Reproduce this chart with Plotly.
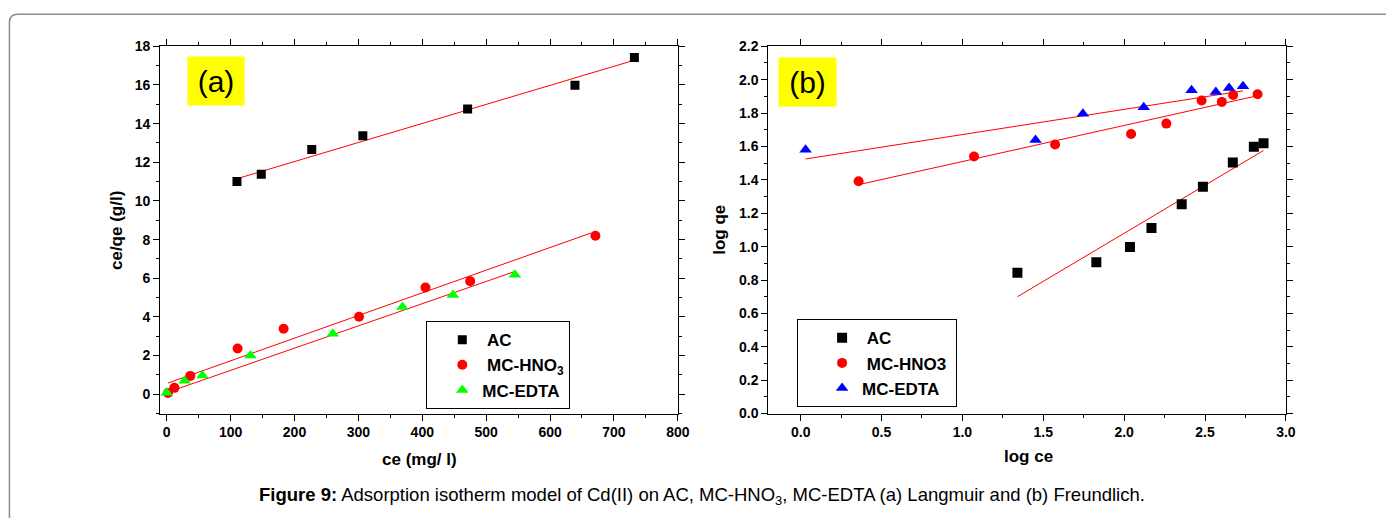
import plotly.graph_objects as go

W, H = 1398, 526

# ---------------- Panel (a): Langmuir ----------------
ce_ac_a = [110, 148, 227, 307, 471, 639, 732]
cq_ac_a = [11.0, 11.38, 12.66, 13.37, 14.76, 15.99, 17.42]
ce_hno3_a = [2, 12, 37, 111, 183, 301, 405, 475, 671]
cq_hno3_a = [0.06, 0.33, 0.95, 2.37, 3.39, 4.01, 5.52, 5.85, 8.2]
ce_edta_a = [0, 28, 56, 131, 260, 369, 448, 545]
cq_edta_a = [0.08, 0.70, 0.97, 2.01, 3.13, 4.51, 5.13, 6.18]
fit_ac_a_x = [110, 732]
fit_ac_a_y = [11.15, 17.28]
fit_hno3_a_x = [2, 664]
fit_hno3_a_y = [0.58, 8.34]
fit_edta_a_x = [3, 543]
fit_edta_a_y = [0.12, 6.33]

# ---------------- Panel (b): Freundlich ----------------
logce_ac_b = [1.340, 1.828, 2.036, 2.169, 2.356, 2.487, 2.672, 2.802, 2.862]
logqe_ac_b = [0.843, 0.907, 0.998, 1.111, 1.254, 1.359, 1.504, 1.599, 1.620]
logce_hno3_b = [0.358, 1.072, 1.573, 2.043, 2.261, 2.479, 2.604, 2.674, 2.825]
logqe_hno3_b = [1.392, 1.540, 1.612, 1.675, 1.737, 1.875, 1.867, 1.908, 1.913]
logce_edta_b = [0.030, 1.452, 1.745, 2.121, 2.417, 2.567, 2.649, 2.735]
logqe_edta_b = [1.581, 1.638, 1.796, 1.835, 1.937, 1.927, 1.950, 1.960]
fit_ac_b_x = [1.340, 2.862]
fit_ac_b_y = [0.700, 1.576]
fit_hno3_b_x = [0.376, 2.825]
fit_hno3_b_y = [1.375, 1.904]
fit_edta_b_x = [0.030, 2.735]
fit_edta_b_y = [1.525, 1.933]

names_a = ["\u00a0AC", "\u00a0MC-HNO<sub>3</sub>", "MC-EDTA"]
names_b = ["\u00a0AC", "\u00a0MC-HNO3\u00a0", "MC-EDTA"]
x_ticks_a = [0, 100, 200, 300, 400, 500, 600, 700, 800]
y_ticks_a = [0, 2, 4, 6, 8, 10, 12, 14, 16, 18]
x_ticks_b = [0.0, 0.5, 1.0, 1.5, 2.0, 2.5, 3.0]
y_ticks_b = [0.0, 0.2, 0.4, 0.6, 0.8, 1.0, 1.2, 1.4, 1.6, 1.8, 2.0, 2.2]

FONT = "Liberation Sans, Arial, sans-serif"
RED = "#ff0000"

fig = go.Figure()

def fit(x, y, xa, ya):
    fig.add_trace(go.Scatter(x=x, y=y, mode="lines", line=dict(color=RED, width=1),
                             showlegend=False, hoverinfo="skip", xaxis=xa, yaxis=ya))

def pts(x, y, name, sym, color, size, xa, ya, leg):
    fig.add_trace(go.Scatter(x=x, y=y, mode="markers", name=name,
                             marker=dict(symbol=sym, color=color, size=size, line=dict(width=0)),
                             xaxis=xa, yaxis=ya, legend=leg))

fit(fit_ac_a_x, fit_ac_a_y, "x", "y")
fit(fit_hno3_a_x, fit_hno3_a_y, "x", "y")
fit(fit_edta_a_x, fit_edta_a_y, "x", "y")
pts(ce_ac_a, cq_ac_a, names_a[0], "square", "black", 9, "x", "y", "legend")
pts(ce_hno3_a, cq_hno3_a, names_a[1], "circle", RED, 10, "x", "y", "legend")
pts(ce_edta_a, cq_edta_a, names_a[2], "triangle-up", "#00ff00", 11, "x", "y", "legend")

fit(fit_ac_b_x, fit_ac_b_y, "x2", "y2")
fit(fit_hno3_b_x, fit_hno3_b_y, "x2", "y2")
fit(fit_edta_b_x, fit_edta_b_y, "x2", "y2")
pts(logce_ac_b, logqe_ac_b, names_b[0], "square", "black", 10, "x2", "y2", "legend2")
pts(logce_hno3_b, logqe_hno3_b, names_b[1], "circle", RED, 10, "x2", "y2", "legend2")
pts(logce_edta_b, logqe_edta_b, names_b[2], "triangle-up", "#0000ff", 11, "x2", "y2", "legend2")

def px(v):
    return v / W

def py(v):
    return 1 - v / H

ydom = [py(418.3), py(39.5)]
axcommon = dict(showgrid=False, zeroline=False, showline=True, linecolor="black", linewidth=1.2,
                mirror="allticks", ticks="outside", ticklen=6, tickwidth=1, tickcolor="black",
                tickfont=dict(family=FONT, size=14, color="black", weight="bold"))

fig.update_layout(
    autosize=True, margin=dict(l=0, r=0, t=0, b=0),
    paper_bgcolor="white", plot_bgcolor="white",
    xaxis=dict(domain=[px(161.7), px(683.7)], range=[-10, 800], tickvals=x_ticks_a,
               minor=dict(dtick=50, ticks="outside", ticklen=3, tickcolor="black"),
               anchor="y", **axcommon),
    yaxis=dict(domain=ydom, range=[-1, 18], tickvals=y_ticks_a,
               minor=dict(dtick=1, ticks="outside", ticklen=3, tickcolor="black"),
               anchor="x", **axcommon),
    xaxis2=dict(domain=[px(775), px(1297)], range=[-0.2, 3.0], tickvals=x_ticks_b, tickformat=".1f",
                minor=dict(dtick=0.25, ticks="outside", ticklen=3, tickcolor="black"),
                anchor="y2", **axcommon),
    yaxis2=dict(domain=ydom, range=[0, 2.2], tickvals=y_ticks_b, tickformat=".1f",
                minor=dict(dtick=0.1, ticks="outside", ticklen=3, tickcolor="black"),
                anchor="x2", **axcommon),
    legend=dict(x=px(430), y=py(323), xanchor="left", yanchor="top",
                bgcolor="white", bordercolor="black", borderwidth=1, indentation=15,
                font=dict(family=FONT, size=17, color="black", weight="bold"),
                itemsizing="trace"),
    legend2=dict(x=px(804), y=py(321), xanchor="left", yanchor="top",
                 bgcolor="white", bordercolor="black", borderwidth=1, indentation=24,
                 font=dict(family=FONT, size=17, color="black", weight="bold"),
                 itemsizing="trace"),
    showlegend=True,
)

ann = []
ann.append(dict(x=px(218), y=py(75), text="(a)", showarrow=False, xref="paper", yref="paper",
                font=dict(family=FONT, size=30, color="black"), bgcolor="#ffff00",
                width=54, height=46, xanchor="center", yanchor="middle"))
ann.append(dict(x=px(814.5), y=py(76), text="(b)", showarrow=False, xref="paper", yref="paper",
                font=dict(family=FONT, size=30, color="black"), bgcolor="#ffff00",
                width=55, height=46, xanchor="center", yanchor="middle"))
ann.append(dict(x=px(117), y=py(229), text="ce/qe (g/l)", textangle=-90, showarrow=False,
                xref="paper", yref="paper", xanchor="center", yanchor="middle",
                font=dict(family=FONT, size=17, color="black", weight="bold")))
ann.append(dict(x=px(422.7), y=py(465.5), text="ce (mg/ l)", showarrow=False,
                xref="paper", yref="paper", xanchor="center", yanchor="middle",
                font=dict(family=FONT, size=17, color="black", weight="bold")))
ann.append(dict(x=px(725), y=py(229), text="log qe", textangle=-90, showarrow=False,
                xref="paper", yref="paper", xanchor="center", yanchor="middle",
                font=dict(family=FONT, size=17, color="black", weight="bold")))
ann.append(dict(x=px(1037), y=py(463), text="log ce", showarrow=False,
                xref="paper", yref="paper", xanchor="center", yanchor="middle",
                font=dict(family=FONT, size=17, color="black", weight="bold")))
ann.append(dict(x=px(708.5), y=py(503),
                text="<b>Figure 9:</b> Adsorption isotherm model of Cd(II) on AC, MC-HNO<sub>3</sub>, MC-EDTA (a) Langmuir and (b) Freundlich.",
                showarrow=False, xref="paper", yref="paper", xanchor="center", yanchor="middle",
                font=dict(family=FONT, size=18.5, color="black")))
fig.update_layout(annotations=ann)

border = (f"M {px(9.5)},{py(526)} L {px(9.5)},{py(15)} Q {px(9.5)},{py(6.5)} {px(18)},{py(6.5)} "
          f"L {px(1398)},{py(6.5)}")
fig.add_shape(type="path", path=border, xref="paper", yref="paper",
              line=dict(color="#8c8c8c", width=1.5), layer="below")

fig.write_html("out.html",
               config={"displayModeBar": False},
               default_width="1398px;position:absolute;left:0;top:0",
               default_height="526px")
